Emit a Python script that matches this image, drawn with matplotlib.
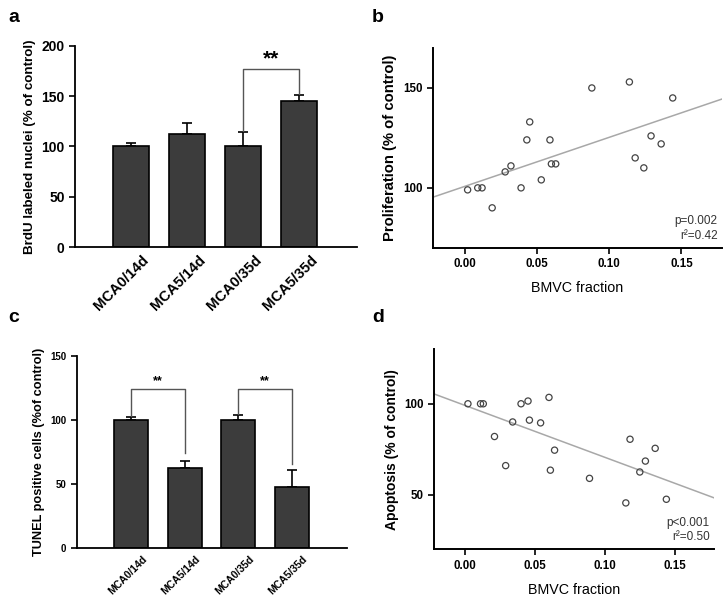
import numpy as np
import matplotlib
matplotlib.use('Agg')
import matplotlib.pyplot as plt

plt.rcParams['font.family'] = ['Liberation Sans', 'DejaVu Sans']

# panel a: BrdU labeled nuclei
groups = ['MCA0/14d', 'MCA5/14d', 'MCA0/35d', 'MCA5/35d']
brdu_mean = [100, 112, 100, 145]
brdu_err = [3, 11, 14, 6]

# panel c: TUNEL positive cells
tunel_mean = [100, 63, 100, 48]
tunel_err = [2, 5, 4, 13]

# panels b and d: BMVC fraction vs proliferation / apoptosis
bmvc_b = [0.002, 0.009, 0.012, 0.019, 0.028, 0.032, 0.039, 0.043, 0.045, 0.053,
          0.059, 0.060, 0.063, 0.088, 0.114, 0.118, 0.124, 0.129, 0.136, 0.144]
prolif = [99, 100, 100, 90, 108, 111, 100, 124, 133, 104,
          124, 112, 112, 150, 153, 115, 110, 126, 122, 145]
bmvc_d = [0.002, 0.011, 0.013, 0.021, 0.029, 0.034, 0.040, 0.045, 0.046, 0.054,
          0.060, 0.061, 0.064, 0.089, 0.115, 0.118, 0.125, 0.129, 0.136, 0.144]
apopt = [100, 100, 100, 82, 66, 90, 100, 101.5, 91, 89.5,
         103.5, 63.5, 74.5, 59, 45.5, 80.5, 62.5, 68.5, 75.5, 47.5]

BAR = '#3c3c3c'

fig = plt.figure(figsize=(7.24, 6.0), dpi=100)


def bar_panel(rect, means, errs, ylim, yticks, tick_fs, xfs, label, label_fs):
    ax = fig.add_axes(rect)
    x = np.arange(len(means))
    ax.bar(x, means, width=0.64, color=BAR, edgecolor='black', linewidth=1.2, zorder=2)
    ax.errorbar(x, means, yerr=[np.zeros(len(errs)), errs], fmt='none',
                ecolor='black', elinewidth=1.2, capsize=3.5, capthick=1.2, zorder=1)
    ax.set_ylim(*ylim)
    ax.set_yticks(yticks)
    ax.set_xticks(x + 0.2)
    ax.set_xticklabels(groups, rotation=45, ha='right', rotation_mode='anchor',
                       fontsize=xfs, fontweight='bold')
    ax.tick_params(axis='x', length=0, pad=4)
    ax.tick_params(axis='y', direction='out', length=4, width=1.2, labelsize=tick_fs)
    for t in ax.get_yticklabels():
        t.set_fontweight('bold')
    for s in ['top', 'right']:
        ax.spines[s].set_visible(False)
    for s in ['left', 'bottom']:
        ax.spines[s].set_linewidth(1.3)
    ax.set_ylabel(label, fontsize=label_fs, fontweight='bold')
    return ax


def bracket(ax, x1, x2, y1, y2, top, star_y, fs):
    ax.plot([x1, x1, x2, x2], [y1, top, top, y2], color='#555555', lw=1.0)
    ax.text((x1 + x2) / 2, star_y, '**', ha='center', va='center',
            fontsize=fs, fontweight='bold')


# ---- a ----
ax_a = bar_panel([0.1036, 0.588, 0.390, 0.336], brdu_mean, brdu_err, (0, 200),
                 [0, 50, 100, 150, 200], 10, 10.5,
                 'BrdU labeled nuclei (% of control)', 9.6)
ax_a.set_xlim(-0.99, 4.04)
bracket(ax_a, 2, 3, 115, 152, 177, 187, 15)

# ---- c ----
ax_c = bar_panel([0.106, 0.086, 0.373, 0.321], tunel_mean, tunel_err, (0, 150),
                 [0, 50, 100, 150], 7, 7.5,
                 'TUNEL positive cells (%of control)', 9.2)
ax_c.set_xlim(-1.02, 4.03)
bracket(ax_c, 0, 1, 103, 74, 124, 130, 9)
bracket(ax_c, 2, 3, 105, 66, 124, 130, 9)


def scatter_panel(rect, xs, ys, ylim, yticks, label, label_fs, ptxt):
    ax = fig.add_axes(rect)
    ax.scatter(xs, ys, s=20, facecolors='none', edgecolors='#444444',
               linewidths=0.9, zorder=3)
    k, b = np.polyfit(xs, ys, 1)
    xl = np.array([-0.025, 0.18])
    ax.plot(xl, k * xl + b, color='#a8a8a8', lw=1.1, zorder=2)
    ax.set_xlim(-0.022, 0.178)
    ax.set_ylim(*ylim)
    ax.set_xticks([0.0, 0.05, 0.10, 0.15])
    ax.set_xticklabels(['0.00', '0.05', '0.10', '0.15'])
    ax.set_yticks(yticks)
    ax.tick_params(direction='out', length=4, width=1.2, labelsize=8.3)
    for t in ax.get_xticklabels() + ax.get_yticklabels():
        t.set_fontweight('bold')
    for s in ['top', 'right']:
        ax.spines[s].set_visible(False)
    for s in ['left', 'bottom']:
        ax.spines[s].set_linewidth(1.4)
    ax.set_xlabel('BMVC fraction', fontsize=10.3, labelpad=8)
    ax.set_ylabel(label, fontsize=label_fs, fontweight='bold')
    ax.text(0.985, 0.03, ptxt, transform=ax.transAxes, ha='right', va='bottom',
            fontsize=8.5, linespacing=1.3, color='#333333')
    return ax


# ---- b ----
scatter_panel([0.598, 0.587, 0.399, 0.333], bmvc_b, prolif, (70, 170), [100, 150],
              'Proliferation (% of control)', 10.6, 'p=0.002\nr²=0.42')

# ---- d ----
scatter_panel([0.600, 0.0845, 0.386, 0.3335], bmvc_d, apopt, (20, 130), [50, 100],
              'Apoptosis (% of control)', 10.0, 'p<0.001\nr²=0.50')

# panel letters
for lbl, (px, py) in zip('abcd', [(8, 18), (372, 18), (8, 318), (372, 318)]):
    fig.text(px / 724, 1 - py / 600, lbl, fontsize=14, fontweight='bold',
             ha='left', va='center')

fig.savefig('out.png', dpi=100)
